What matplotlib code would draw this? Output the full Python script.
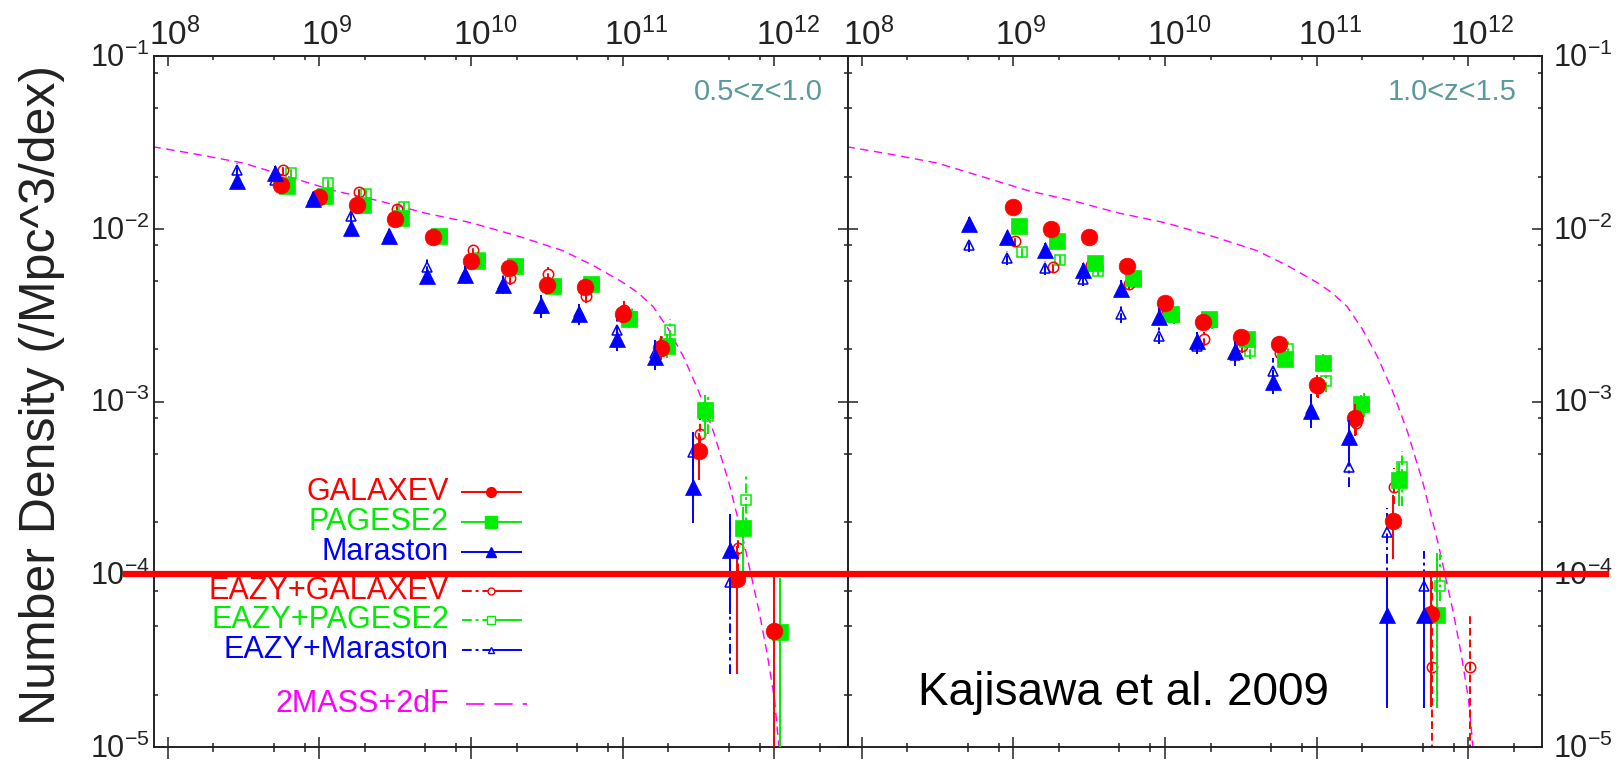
import numpy as np
import matplotlib
matplotlib.use("Agg")
import matplotlib.pyplot as plt
import matplotlib.transforms as mtransforms
from matplotlib import font_manager
from matplotlib.lines import Line2D
from matplotlib.ticker import LogLocator, NullFormatter

plt.rcParams["font.family"] = ["Liberation Sans", "DejaVu Sans"]
plt.rcParams["mathtext.fontset"] = "custom"
plt.rcParams["mathtext.rm"] = "Liberation Sans"

RED, GREEN, BLUE, MAGENTA = "#ff0000", "#00ee00", "#0000ff", "#ff00ff"
ZCOL = "#5a9a9e"
INK = "#222222"

# ---- stellar mass function data (log10 M bin centres, phi in /Mpc^3/dex) ----
# 0.5 < z < 1.0
bins_l = [8.75, 9.0, 9.25, 9.5, 9.75, 10.0, 10.25, 10.5, 10.75, 11.0, 11.25, 11.5, 11.75, 12.0]
bins_l_mar = [8.5, 8.75, 9.0, 9.25, 9.5, 9.75, 10.0, 10.25, 10.5, 10.75, 11.0, 11.25, 11.5, 11.75]
bins_l_eazy = [8.75, 9.0, 9.25, 9.5, 9.75, 10.0, 10.25, 10.5, 10.75, 11.0, 11.25, 11.5, 11.75]

galaxev_l = [0.0178, 0.0152, 0.0137, 0.0114, 0.0090, 0.0065, 0.0059, 0.0047, 0.0046, 0.0032, 0.00205, 5.2e-4, 9.4e-5, 4.7e-5]
galaxev_l_lo = [0.03, 0.03, 0.03, 0.03, 0.03, 0.03, 0.03, 0.04, 0.04, 0.05, 0.07, 0.17, 0.55, 3.0]
galaxev_l_hi = [0.03, 0.03, 0.03, 0.03, 0.03, 0.03, 0.03, 0.04, 0.04, 0.05, 0.07, 0.10, 0.19, 0.31]

pagese2_l = [0.0177, 0.0154, 0.0137, 0.0115, 0.0091, 0.0065, 0.0061, 0.00465, 0.0048, 0.0030, 0.0021, 8.9e-4, 1.86e-4, 4.65e-5]
pagese2_l_lo = [0.03, 0.03, 0.03, 0.03, 0.03, 0.03, 0.03, 0.04, 0.04, 0.05, 0.07, 0.16, 0.30, 3.0]
pagese2_l_hi = [0.03, 0.03, 0.03, 0.03, 0.03, 0.03, 0.03, 0.04, 0.04, 0.05, 0.07, 0.09, 0.12, 0.31]

maraston_l = [0.0188, 0.0211, 0.0149, 0.0101, 0.0091, 0.0053, 0.0054, 0.0047, 0.0036, 0.0032, 0.0023, 0.00182, 3.2e-4, 1.38e-4]
maraston_l_lo = [0.04, 0.04, 0.04, 0.04, 0.04, 0.04, 0.05, 0.05, 0.06, 0.06, 0.07, 0.08, 0.21, 0.37]
maraston_l_hi = [0.04, 0.04, 0.04, 0.04, 0.04, 0.04, 0.05, 0.05, 0.06, 0.06, 0.07, 0.08, 0.32, 0.21]

eazy_galaxev_l = [0.0219, 0.0155, 0.0164, 0.0130, 0.0093, 0.0075, 0.0052, 0.0055, 0.0041, 0.0034, 0.0021, 6.5e-4, 1.41e-4]
eazy_galaxev_l_lo = [0.03, 0.03, 0.03, 0.03, 0.03, 0.03, 0.04, 0.04, 0.04, 0.05, 0.06, 0.12, 0.20]
eazy_galaxev_l_hi = [0.03, 0.03, 0.03, 0.03, 0.03, 0.03, 0.04, 0.04, 0.04, 0.05, 0.06, 0.10, 0.15]

eazy_pagese2_l = [0.0209, 0.0183, 0.0159, 0.0134, 0.0092, 0.0068, 0.0062, 0.0046, 0.0048, 0.0031, 0.0026, 8.2e-4, 2.7e-4]
eazy_pagese2_l_lo = [0.03, 0.03, 0.03, 0.03, 0.03, 0.03, 0.04, 0.04, 0.04, 0.05, 0.06, 0.10, 0.20]
eazy_pagese2_l_hi = [0.03, 0.03, 0.03, 0.03, 0.03, 0.03, 0.04, 0.04, 0.04, 0.05, 0.06, 0.13, 0.155]

eazy_maraston_l = [0.0218, 0.0191, 0.0150, 0.0119, 0.0092, 0.0060, 0.0055, 0.0048, 0.0035, 0.0033, 0.0026, 0.0019, 5.1e-4, 9.0e-5]
eazy_maraston_l_lo = [0.04, 0.04, 0.04, 0.04, 0.04, 0.05, 0.05, 0.05, 0.06, 0.06, 0.07, 0.08, 0.10, 0.53]
eazy_maraston_l_hi = [0.04, 0.04, 0.04, 0.04, 0.04, 0.05, 0.05, 0.05, 0.06, 0.06, 0.07, 0.08, 0.12, 0.40]

# 1.0 < z < 1.5
bins_r = [9.0, 9.25, 9.5, 9.75, 10.0, 10.25, 10.5, 10.75, 11.0, 11.25, 11.5, 11.75]
bins_r_mar = [8.75, 9.0, 9.25, 9.5, 9.75, 10.0, 10.25, 10.5, 10.75, 11.0, 11.25, 11.5, 11.75]
bins_r_eazy_gal = [9.0, 9.25, 9.5, 9.75, 10.0, 10.25, 10.5, 10.75, 11.0, 11.25, 11.5, 11.75, 12.0]

galaxev_r = [0.0133, 0.0100, 0.0090, 0.0061, 0.0037, 0.0029, 0.00236, 0.00214, 0.00124, 8.0e-4, 2.03e-4, 5.9e-5]
galaxev_r_lo = [0.03, 0.03, 0.03, 0.03, 0.04, 0.04, 0.04, 0.05, 0.07, 0.10, 0.22, 0.54]
galaxev_r_hi = [0.03, 0.03, 0.03, 0.03, 0.04, 0.04, 0.04, 0.05, 0.06, 0.08, 0.15, 0.22]

pagese2_r = [0.0104, 0.0085, 0.0063, 0.0052, 0.0032, 0.0030, 0.0023, 0.00177, 0.00168, 9.7e-4, 3.5e-4, 5.8e-5]
pagese2_r_lo = [0.03, 0.03, 0.03, 0.03, 0.04, 0.04, 0.04, 0.05, 0.05, 0.05, 0.15, 0.54]
pagese2_r_hi = [0.03, 0.03, 0.03, 0.03, 0.04, 0.04, 0.04, 0.05, 0.05, 0.05, 0.10, 0.36]

maraston_r = [0.0106, 0.0089, 0.0075, 0.0058, 0.0045, 0.0031, 0.00225, 0.00195, 0.00130, 8.8e-4, 6.2e-4, 5.8e-5, 5.8e-5]
maraston_r_lo = [0.04, 0.04, 0.04, 0.04, 0.05, 0.05, 0.05, 0.06, 0.07, 0.10, 0.15, 0.54, 0.54]
maraston_r_hi = [0.04, 0.04, 0.04, 0.04, 0.05, 0.05, 0.05, 0.06, 0.07, 0.10, 0.10, 0.24, 0.24]

eazy_galaxev_r = [0.0085, 0.0060, 0.0062, 0.0048, 0.0034, 0.0023, 0.0021, 0.0019, 0.0012, 7.5e-4, 3.2e-4, 2.9e-5, 2.9e-5]
eazy_galaxev_r_lo = [0.03, 0.03, 0.03, 0.03, 0.04, 0.04, 0.04, 0.05, 0.06, 0.07, 0.10, 3.0, 3.0]
eazy_galaxev_r_hi = [0.03, 0.03, 0.03, 0.03, 0.04, 0.04, 0.04, 0.05, 0.06, 0.07, 0.11, 0.53, 0.30]

eazy_pagese2_r = [0.0073, 0.0066, 0.0057, 0.0049, 0.0031, 0.0029, 0.00197, 0.0020, 0.00131, 9.5e-4, 4.2e-4, 8.6e-5]
eazy_pagese2_r_lo = [0.03, 0.03, 0.03, 0.03, 0.04, 0.04, 0.05, 0.05, 0.06, 0.07, 0.23, 0.09]
eazy_pagese2_r_hi = [0.03, 0.03, 0.03, 0.03, 0.04, 0.04, 0.05, 0.05, 0.06, 0.07, 0.093, 0.18]

eazy_maraston_r = [0.0080, 0.0068, 0.0059, 0.0051, 0.0032, 0.0024, 0.0021, 0.00185, 0.00151, 9.0e-4, 4.2e-4, 1.76e-4, 8.6e-5]
eazy_maraston_r_lo = [0.04, 0.04, 0.04, 0.04, 0.05, 0.05, 0.05, 0.06, 0.07, 0.08, 0.12, 0.30, 0.20]
eazy_maraston_r_hi = [0.04, 0.04, 0.04, 0.04, 0.05, 0.05, 0.05, 0.06, 0.07, 0.08, 0.05, 0.14, 0.20]

# local mass function (2MASS+2dF)
mf_logm = [7.9, 8.2, 8.5, 8.8, 9.1, 9.4, 9.7, 10.0, 10.3, 10.6, 10.8, 11.0, 11.1, 11.2,
           11.3, 11.4, 11.5, 11.6, 11.7, 11.8, 11.9, 11.95, 12.0, 12.03]
mf_logphi = [-1.525, -1.57, -1.62, -1.70, -1.78, -1.84, -1.91, -1.965, -2.04, -2.125, -2.21, -2.31, -2.37, -2.45,
             -2.58, -2.74, -2.94, -3.18, -3.47, -3.82, -4.22, -4.45, -4.72, -5.0]

x_ticks = [8, 9, 10, 11, 12]
y_ticks = [-1, -2, -3, -4, -5]
legend_names = ["GALAXEV", "PAGESE2", "Maraston", "EAZY+GALAXEV", "EAZY+PAGESE2", "EAZY+Maraston", "2MASS+2dF"]
z_labels = ["0.5<z<1.0", "1.0<z<1.5"]

W, H = 1621, 763
fig = plt.figure(figsize=(W / 100, H / 100), dpi=100)
fig.patch.set_facecolor("white")


def px_box(x0, x1, y0, y1):
    return [x0 / W, 1 - y1 / H, (x1 - x0) / W, (y1 - y0) / H]


ax1 = fig.add_axes(px_box(154, 848, 56, 747))
ax2 = fig.add_axes(px_box(848, 1542, 56, 747))


def draw_series(ax, logm, phi, lo, hi, dx, color, marker, ms, filled, ls, z):
    x = 10 ** (np.array(logm) + dx)
    y = np.array(phi)
    ylo = y - y * 10 ** (-np.array(lo))
    yhi = y * 10 ** np.array(hi) - y
    eb = ax.errorbar(x, y, yerr=[ylo, yhi], fmt=marker, ms=ms, color=color,
                     mfc=color if filled else "none", mec=color,
                     mew=1.1 if not filled else 0.5, elinewidth=1.4, capsize=0, zorder=z)
    for lc in eb[2]:
        lc.set_linestyle(ls)
        lc.set_zorder(z - 0.5)


dash_r = (0, (4, 2))
dash_dot = (0, (5, 2, 1.5, 2))

panels = [
    (ax1, dict(
        eg=(bins_l_eazy, eazy_galaxev_l, eazy_galaxev_l_lo, eazy_galaxev_l_hi),
        ep=(bins_l_eazy, eazy_pagese2_l, eazy_pagese2_l_lo, eazy_pagese2_l_hi),
        em=(bins_l_mar, eazy_maraston_l, eazy_maraston_l_lo, eazy_maraston_l_hi),
        g=(bins_l, galaxev_l, galaxev_l_lo, galaxev_l_hi),
        p=(bins_l, pagese2_l, pagese2_l_lo, pagese2_l_hi),
        m=(bins_l_mar, maraston_l, maraston_l_lo, maraston_l_hi))),
    (ax2, dict(
        eg=(bins_r_eazy_gal, eazy_galaxev_r, eazy_galaxev_r_lo, eazy_galaxev_r_hi),
        ep=(bins_r, eazy_pagese2_r, eazy_pagese2_r_lo, eazy_pagese2_r_hi),
        em=(bins_r_mar, eazy_maraston_r, eazy_maraston_r_lo, eazy_maraston_r_hi),
        g=(bins_r, galaxev_r, galaxev_r_lo, galaxev_r_hi),
        p=(bins_r, pagese2_r, pagese2_r_lo, pagese2_r_hi),
        m=(bins_r_mar, maraston_r, maraston_r_lo, maraston_r_hi))),
]

for ax, d in panels:
    ax.plot(10 ** np.array(mf_logm), 10 ** np.array(mf_logphi), color=MAGENTA, lw=1.0,
            dashes=(6, 4), zorder=2)
    draw_series(ax, *d["ep"], 0.06, GREEN, "s", 7.5, False, dash_dot, 3)
    draw_series(ax, *d["eg"], 0.01, RED, "o", 7.5, False, dash_r, 3)
    draw_series(ax, *d["em"], -0.04, BLUE, "^", 7.5, False, dash_dot, 3)
    draw_series(ax, *d["p"], 0.04, GREEN, "s", 12, True, "solid", 4)
    draw_series(ax, *d["g"], 0.0, RED, "o", 12, True, "solid", 5)
    draw_series(ax, *d["m"], -0.04, BLUE, "^", 12, True, "solid", 6)

    ax.set_xscale("log")
    ax.set_yscale("log")
    ax.set_xlim(10 ** 7.91, 10 ** 12.485)
    ax.set_ylim(1e-5, 1e-1)
    for axis in (ax.xaxis, ax.yaxis):
        axis.set_major_locator(LogLocator(base=10, numticks=20))
        axis.set_minor_locator(LogLocator(base=10, subs=(2, 5, 8), numticks=20))
        axis.set_minor_formatter(NullFormatter())
    ax.tick_params(which="both", direction="in", top=True, right=True, bottom=True, left=True,
                   labelbottom=False, labeltop=False, labelleft=False, labelright=False,
                   width=1.1, color=INK)
    ax.tick_params(which="major", length=7)
    ax.tick_params(which="minor", length=3.2)
    for sp in ax.spines.values():
        sp.set_linewidth(1.4)
        sp.set_color(INK)

    # outward part of the bottom ticks
    sec = ax.secondary_xaxis("bottom")
    sec.xaxis.set_major_locator(LogLocator(base=10, numticks=20))
    sec.xaxis.set_minor_locator(LogLocator(base=10, subs=(2, 5, 8), numticks=20))
    sec.xaxis.set_minor_formatter(NullFormatter())
    sec.tick_params(which="both", direction="out", labelbottom=False, width=1.1, color=INK)
    sec.tick_params(which="major", length=8.5)
    sec.tick_params(which="minor", length=3.5)
    sec.spines["bottom"].set_visible(False)

    # decade labels along the top
    fs = 24
    for k in x_ticks:
        ax.annotate(r"$\mathregular{10^{%d}}$" % k, xy=(10.0 ** k, 1.0),
                    xycoords=("data", "axes fraction"), xytext=(-0.556 * fs, 8),
                    textcoords="offset points", ha="left", va="baseline", fontsize=fs,
                    color=INK, annotation_clip=False)

# density labels on the outer sides
fsy = 22
for k in y_ticks:
    lab = r"$\mathregular{10^{%d}}$" % k
    ax1.annotate(lab, xy=(0.0, 10.0 ** k), xycoords=("axes fraction", "data"),
                 xytext=(-3, -0.36 * fsy), textcoords="offset points", ha="right",
                 va="baseline", fontsize=fsy, color=INK, annotation_clip=False)
    ax2.annotate(lab, xy=(1.0, 10.0 ** k), xycoords=("axes fraction", "data"),
                 xytext=(8, -0.36 * fsy), textcoords="offset points", ha="left",
                 va="baseline", fontsize=fsy, color=INK, annotation_clip=False)

for ax, lab in zip((ax1, ax2), z_labels):
    ax.text(0.963, 0.936, lab, transform=ax.transAxes, ha="right", va="baseline",
            fontsize=21, color=ZCOL)

fig.text(42 / W, 1 - 395 / H, "Number Density (/Mpc^3/dex)", rotation=90,
         ha="center", va="center", fontsize=36, color=INK)

# key in the left panel
key_y = [0.369, 0.325, 0.282, 0.226, 0.184, 0.140, 0.062]
key_style = [
    (RED, "o", 7, True, "solid"),
    (GREEN, "s", 8, True, "solid"),
    (BLUE, "^", 7, True, "solid"),
    (RED, "o", 5, False, dash_dot),
    (GREEN, "s", 6, False, dash_dot),
    (BLUE, "^", 5, False, dash_dot),
]
tr = ax1.transAxes
for i, name in enumerate(legend_names):
    y = key_y[i]
    col = key_style[i][0] if i < 6 else MAGENTA
    ax1.text(0.425, y, name, transform=tr, ha="right", va="center", fontsize=22, color=col)
    if i < 6:
        c, mk, ms, filled, ls = key_style[i]
        ax1.add_line(Line2D([0.444, 0.486], [y, y], transform=tr, color=c, lw=1.4, linestyle=ls))
        ax1.add_line(Line2D([0.486, 0.529], [y, y], transform=tr, color=c, lw=1.4))
        ax1.add_line(Line2D([0.486], [y], transform=tr, marker=mk, ms=ms, color=c,
                            mfc=c if filled else "white", mec=c, mew=1.0, zorder=6))
    else:
        ax1.add_line(Line2D([0.450, 0.538], [y, y], transform=tr, color=MAGENTA, lw=1.2,
                            dashes=(11, 6)))

# citation, narrow face where available
installed = {f.name for f in font_manager.fontManager.ttflist}
if "Liberation Sans Narrow" in installed:
    cite_font, cite_size = "Liberation Sans Narrow", 40
else:
    cite_font, cite_size = "Liberation Sans", 33
fig.text(918 / W, 1 - 705 / H, "Kajisawa et al. 2009", ha="left", va="baseline",
         fontsize=cite_size, family=[cite_font, "DejaVu Sans"], color="black")

# highlight line at 1e-4 across both panels
blend = mtransforms.blended_transform_factory(fig.transFigure, ax1.transData)
fig.add_artist(Line2D([126 / W, 1606 / W], [1e-4, 1e-4], transform=blend,
                      color="#ff0000", lw=4.5, zorder=10))

fig.savefig("out.png", dpi=100, facecolor="white")
